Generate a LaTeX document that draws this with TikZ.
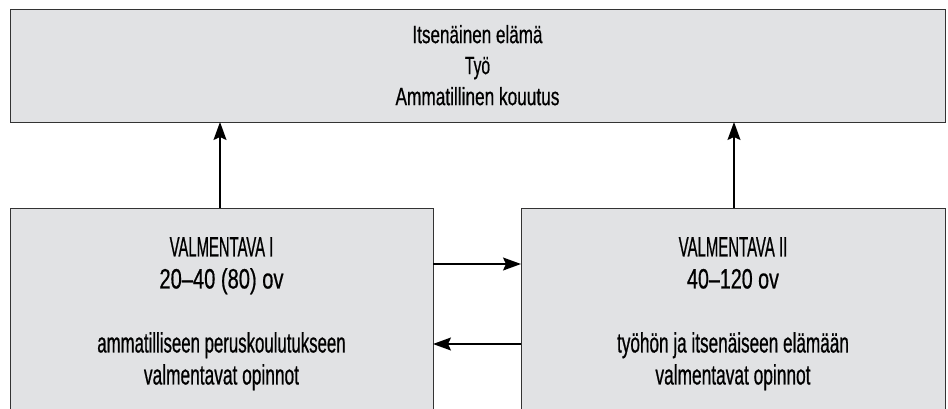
\documentclass[tikz,border=0pt]{standalone}
\usepackage{fontspec}
\setmainfont{Liberation Sans}[FakeBold=0.6]
\usetikzlibrary{arrows.meta}
\definecolor{boxfill}{HTML}{E1E2E4}
\definecolor{boxline}{HTML}{333333}
\newcommand{\fs}[2]{{\addfontfeatures{FakeStretch=#1}#2}}
\tikzset{
  panel/.style={draw=boxline, line width=1pt, fill=boxfill, inner sep=0pt, outer sep=0pt},
  toptext/.style={align=center, inner sep=0pt, anchor=north, font=\fontsize{25}{31}\selectfont},
  bottext/.style={align=center, inner sep=0pt, anchor=north, font=\fontsize{28}{32}\selectfont},
  link/.style={line width=1.4pt, -{Stealth[length=18pt,width=13pt,inset=3pt]}}
}
\begin{document}
\begin{tikzpicture}[x=1pt,y=-1pt]
\useasboundingbox (0,0) rectangle (948,408);
\clip (0,0) rectangle (948,408);
\fill[white] (0,0) rectangle (948,408);
\node[panel, minimum width=935pt, minimum height=113pt] (top) at (477.5,65.5) {};
\node[panel, minimum width=423pt, minimum height=212pt] (left) at (221.5,314) {};
\node[panel, minimum width=424pt, minimum height=212pt] (right) at (733,314) {};
\node[toptext] (toptxt) at (477.5,24.8) {\fs{0.683}{Itsenäinen elämä}\\\fs{0.624}{Työ}\\\fs{0.69}{Ammatillinen kouutus}};
\node[bottext] (lefttxt) at (221.5,237) {\fs{0.53}{VALMENTAVA I}\\\fs{0.718}{20--40 (80) ov}\\[32pt]\fs{0.6}{ammatilliseen peruskoulutukseen}\\\fs{0.619}{valmentavat opinnot}};
\node[bottext] (righttxt) at (733,237) {\fs{0.534}{VALMENTAVA II}\\\fs{0.703}{40--120 ov}\\[32pt]\fs{0.613}{työhön ja itsenäiseen elämään}\\\fs{0.619}{valmentavat opinnot}};
\draw[link] (left.north -| 220,0) -- (top.south -| 220,0);
\draw[link] (right.north -| 734,0) -- (top.south -| 734,0);
\draw[link] (left.east |- 0,264) -- (right.west |- 0,264);
\draw[link] (right.west |- 0,344) -- (left.east |- 0,344);
\end{tikzpicture}
\end{document}
